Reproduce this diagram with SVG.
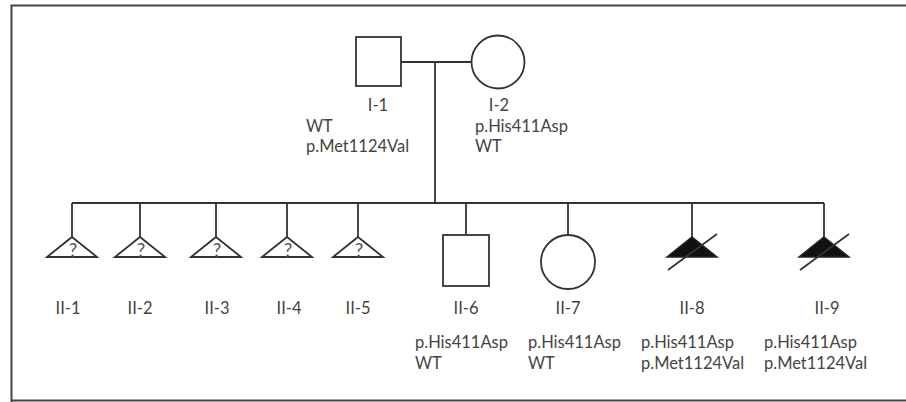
<svg xmlns="http://www.w3.org/2000/svg" width="906" height="402" viewBox="0 0 906 402">
<style>
.ln{stroke:#333;stroke-width:1.8;fill:none}
.sh{stroke:#333;stroke-width:1.8;fill:#fff}
.af{stroke:#222;stroke-width:1.5;fill:#111}
.t{font-family:Lato,"Liberation Sans",sans-serif;font-size:16.5px;fill:#444}
.c{text-anchor:middle}
.q{font-family:Lato,"Liberation Sans",sans-serif;font-size:19px;fill:#555;text-anchor:middle}
</style>
<rect x="0" y="0" width="906" height="402" fill="#fff"/>
<path d="M11.5 402 V5.5 H907 M11.5 400.5 H907" stroke="#444" stroke-width="2" fill="none"/>
<g id="connectors">
<line class="ln" x1="401" y1="62" x2="471" y2="62"/>
<line class="ln" x1="435" y1="62" x2="435" y2="203"/>
<line class="ln" x1="72" y1="203" x2="824" y2="203"/>
<line class="ln" x1="72" y1="203" x2="72" y2="237"/>
<line class="ln" x1="140" y1="203" x2="140" y2="237"/>
<line class="ln" x1="216" y1="203" x2="216" y2="237"/>
<line class="ln" x1="287" y1="203" x2="287" y2="237"/>
<line class="ln" x1="358" y1="203" x2="358" y2="237"/>
<line class="ln" x1="466" y1="203" x2="466" y2="235"/>
<line class="ln" x1="568" y1="203" x2="568" y2="235"/>
<line class="ln" x1="692" y1="203" x2="692" y2="237"/>
<line class="ln" x1="824" y1="203" x2="824" y2="237"/>
</g>
<g id="I-1">
<rect class="sh" x="356" y="37" width="45" height="49"/>
<text class="t c" x="378" y="111">I-1</text>
<text class="t" x="306" y="132">WT</text>
<text class="t" x="306" y="151.5">p.Met1124Val</text>
</g>
<g id="I-2">
<circle class="sh" cx="498" cy="62" r="26.5"/>
<text class="t c" x="499" y="111">I-2</text>
<text class="t" x="475" y="132">p.His411Asp</text>
<text class="t" x="475" y="151.5">WT</text>
</g>
<g id="II-1">
<polygon class="sh" points="72,237 97,257 47,257"/>
<text class="q" x="73" y="257">?</text>
<text class="t c" x="68" y="314">II-1</text>
</g>
<g id="II-2">
<polygon class="sh" points="140,237 165,257 115,257"/>
<text class="q" x="141" y="257">?</text>
<text class="t c" x="140" y="314">II-2</text>
</g>
<g id="II-3">
<polygon class="sh" points="216,237 241,257 191,257"/>
<text class="q" x="217" y="257">?</text>
<text class="t c" x="217" y="314">II-3</text>
</g>
<g id="II-4">
<polygon class="sh" points="287,237 312,257 262,257"/>
<text class="q" x="288" y="257">?</text>
<text class="t c" x="289" y="314">II-4</text>
</g>
<g id="II-5">
<polygon class="sh" points="358,237 383,257 333,257"/>
<text class="q" x="359" y="257">?</text>
<text class="t c" x="358" y="314">II-5</text>
</g>
<g id="II-6">
<rect class="sh" x="443" y="235" width="46" height="51"/>
<text class="t c" x="466" y="314">II-6</text>
<text class="t" x="415" y="348">p.His411Asp</text>
<text class="t" x="415" y="369">WT</text>
</g>
<g id="II-7">
<circle class="sh" cx="568" cy="262" r="27"/>
<text class="t c" x="568" y="314">II-7</text>
<text class="t" x="528" y="348">p.His411Asp</text>
<text class="t" x="528" y="369">WT</text>
</g>
<g id="II-8">
<polygon class="af" points="692,237 717,257 667,257"/>
<line class="ln" x1="668" y1="270" x2="717" y2="234"/>
<text class="t c" x="692" y="314">II-8</text>
<text class="t" x="641" y="348">p.His411Asp</text>
<text class="t" x="641" y="369">p.Met1124Val</text>
</g>
<g id="II-9">
<polygon class="af" points="824,237 849,257 799,257"/>
<line class="ln" x1="800" y1="270" x2="849" y2="234"/>
<text class="t c" x="827" y="314">II-9</text>
<text class="t" x="764" y="348">p.His411Asp</text>
<text class="t" x="764" y="369">p.Met1124Val</text>
</g>
</svg>
